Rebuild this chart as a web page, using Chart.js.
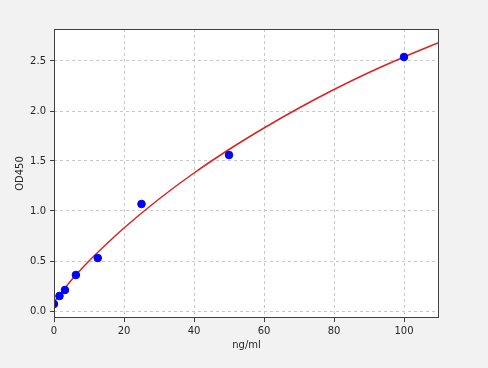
<!DOCTYPE html>
<html><head><meta charset="utf-8">
<script src="https://cdn.jsdelivr.net/npm/chart.js@4"></script>
<style>html,body{margin:0;padding:0;background:#f2f2f2}#wrap{width:488px;height:368px}</style>
</head><body><div id="wrap"><canvas id="c" width="488" height="368"></canvas></div>
<script>
const concentrations = [0, 1.5625, 3.125, 6.25, 12.5, 25, 50, 100];
const odValues = [0.07, 0.15, 0.21, 0.36, 0.53, 1.07, 1.56, 2.54];
const curveX = [0, 5, 10, 15, 20, 30, 40, 50, 60, 70, 80, 90, 100, 110];
const curveY = [0.09, 0.31, 0.50, 0.67, 0.83, 1.12, 1.38, 1.615, 1.83, 2.03, 2.215, 2.385, 2.54, 2.685];
const xTicks = [0, 20, 40, 60, 80, 100];
const yTicks = [0.0, 0.5, 1.0, 1.5, 2.0, 2.5];

const frame = {
  id: 'frame',
  beforeDraw(chart) {
    const {ctx, chartArea: a} = chart;
    ctx.save();
    ctx.fillStyle = '#f2f2f2';
    ctx.fillRect(0, 0, chart.width, chart.height);
    ctx.fillStyle = '#ffffff';
    ctx.fillRect(a.left, a.top, a.right - a.left, a.bottom - a.top);
    ctx.restore();
  },
  afterDraw(chart) {
    const {ctx, chartArea: a} = chart;
    ctx.save();
    ctx.strokeStyle = '#404040';
    ctx.lineWidth = 1;
    ctx.strokeRect(a.left + 0.5, a.top + 0.5, a.right - a.left - 1, a.bottom - a.top - 1);
    ctx.restore();
  }
};

const tickFont = {family: 'DejaVu Sans', size: 10};
new Chart(document.getElementById('c'), {
  type: 'scatter',
  data: {
    datasets: [
      {
        type: 'line',
        data: curveX.map((x, i) => ({x, y: curveY[i]})),
        borderColor: '#dd2222',
        borderWidth: 1.5,
        pointRadius: 0,
        cubicInterpolationMode: 'monotone',
        order: 2
      },
      {
        data: concentrations.map((x, i) => ({x, y: odValues[i]})),
        backgroundColor: '#0000ff',
        borderColor: '#0000ff',
        pointRadius: 3.8,
        order: 1
      }
    ]
  },
  options: {
    responsive: false,
    animation: false,
    devicePixelRatio: 1,
    layout: {padding: {left: 14, right: 49, top: 29, bottom: 17}},
    plugins: {legend: {display: false}, tooltip: {enabled: false}},
    scales: {
      x: {
        type: 'linear', min: 0, max: 110,
        afterBuildTicks: s => { s.ticks = xTicks.map(v => ({value: v})); },
        afterFit: s => { s.height = 33; },
        grid: {color: '#c8c8c8', tickLength: 4, tickColor: '#404040', tickBorderDash: []},
        border: {display: false, dash: [3, 3]},
        ticks: {font: tickFont, color: '#262626', padding: 3, maxRotation: 0, callback: v => String(v)},
        title: {display: true, text: 'ng/ml', font: tickFont, color: '#262626', padding: {top: 2, bottom: 0}}
      },
      y: {
        type: 'linear', min: -0.07, max: 2.82,
        afterBuildTicks: s => { s.ticks = yTicks.map(v => ({value: v})); },
        afterFit: s => { s.width = 40; },
        grid: {color: '#c8c8c8', tickLength: 4, tickColor: '#404040', tickBorderDash: []},
        border: {display: false, dash: [3, 3]},
        ticks: {font: tickFont, color: '#262626', padding: 4, callback: v => v.toFixed(1)},
        title: {display: true, text: 'OD450', font: tickFont, color: '#262626', padding: {top: 0, bottom: 2}}
      }
    }
  },
  plugins: [frame]
});
</script></body></html>
